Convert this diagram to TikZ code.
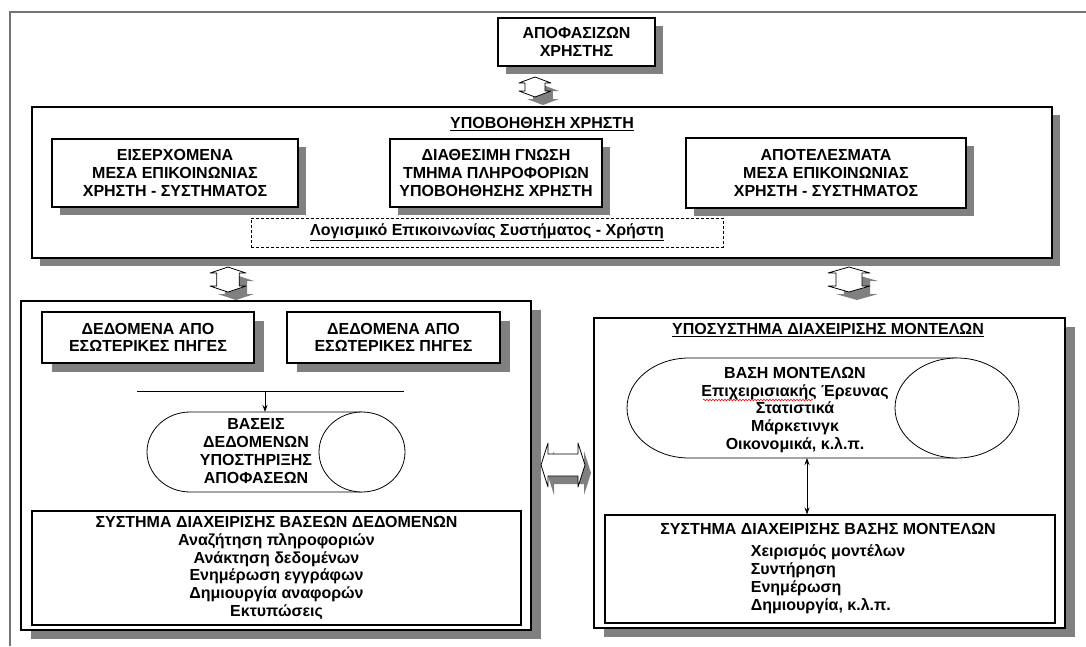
\documentclass[tikz,border=0pt]{standalone}
\usepackage{fontspec}
\setmainfont{Liberation Sans}
\usetikzlibrary{shadows,arrows.meta,decorations.pathmorphing}

% up-down block arrow: centre x, top y, height, half width of the heads
\newcommand{\udarrow}[4]{%
  \begin{scope}[shift={(#1,#2)}]
    \begin{scope}[shift={(8,8)}]
      \fill[shadowgray] (0,0) -- (#4,6) -- ({0.62*#4},6) -- ({0.62*#4},{#3-6}) -- (#4,{#3-6}) -- (0,#3)
        -- (-#4,{#3-6}) -- ({-0.62*#4},{#3-6}) -- ({-0.62*#4},6) -- (-#4,6) -- cycle;
    \end{scope}
    \filldraw[fill=white, draw=black, line width=0.8pt, line join=round]
      (0,0) -- (#4,6) -- ({0.62*#4},6) -- ({0.62*#4},{#3-6}) -- (#4,{#3-6}) -- (0,#3)
      -- (-#4,{#3-6}) -- ({-0.62*#4},{#3-6}) -- ({-0.62*#4},6) -- (-#4,6) -- cycle;
  \end{scope}}

\definecolor{shadowgray}{gray}{0.5}

\begin{document}
\begin{tikzpicture}[x=1pt, y=-1pt,
  txt/.style={font=\fontsize{16}{17.8}\selectfont\bfseries, align=center, inner sep=0pt},
  box/.style={draw=black, line width=1.1pt, fill=white, inner sep=0pt,
              font=\fontsize{16}{17.8}\selectfont\bfseries, align=center},
  shad/.style={drop shadow={shadow xshift=8pt, shadow yshift=-8pt, fill=shadowgray, opacity=1}},
  dshad/.style={drop shadow={shadow xshift=10pt, shadow yshift=-9pt, fill=shadowgray, opacity=1}},
  link/.style={draw=black, line width=0.9pt}]

% page
\path[use as bounding box, fill=white] (0,0) rectangle (1086,646);

% outer frame
\draw[black!55, line width=2pt] (1086,12) -- (10,12) -- (10,646);

% decision maker
\node[box, shad, minimum width=157pt, minimum height=48pt] (user) at (576.5,42) {ΑΠΟΦΑΣΙΖΩΝ\\ΧΡΗΣΤΗΣ};

\udarrow{535}{77}{20}{16}

% user support block
\node[box, shad, minimum width=1020pt, minimum height=151pt] (support) at (542,182.5) {};
\node[txt] (supporttitle) at (542,124) {\underline{ΥΠΟΒΟΗΘΗΣΗ ΧΡΗΣΤΗ}};
\node[box, shad, minimum width=246pt, minimum height=68pt] (input) at (175,173)
  {ΕΙΣΕΡΧΟΜΕΝΑ\\ΜΕΣΑ ΕΠΙΚΟΙΝΩΝΙΑΣ\\ΧΡΗΣΤΗ - ΣΥΣΤΗΜΑΤΟΣ};
\node[box, shad, minimum width=212pt, minimum height=68pt] (know) at (496,173)
  {ΔΙΑΘΕΣΙΜΗ ΓΝΩΣΗ\\ΤΜΗΜΑ ΠΛΗΡΟΦΟΡΙΩΝ\\ΥΠΟΒΟΗΘΗΣΗΣ ΧΡΗΣΤΗ};
\node[box, shad, minimum width=280pt, minimum height=70pt] (output) at (826,173)
  {ΑΠΟΤΕΛΕΣΜΑΤΑ\\ΜΕΣΑ ΕΠΙΚΟΙΝΩΝΙΑΣ\\ΧΡΗΣΤΗ - ΣΥΣΤΗΜΑΤΟΣ};
\node[box, draw=black, line width=0.8pt, dash pattern=on 3pt off 2pt, minimum width=472pt, minimum height=29pt]
  (soft) at (487,232.5) {\underline{Λογισμικό Επικοινωνίας Συστήματος - Χρήστη}};

\udarrow{228}{267}{25}{18}
\udarrow{849}{267}{25}{21}

% data management subsystem
\node[box, dshad, minimum width=510pt, minimum height=329pt] (datasys) at (276,465.5) {};
\node[box, dshad, minimum width=212pt, minimum height=51pt] (src1) at (148,337.5)
  {ΔΕΔΟΜΕΝΑ ΑΠΟ\\ΕΣΩΤΕΡΙΚΕΣ ΠΗΓΕΣ};
\node[box, dshad, minimum width=213pt, minimum height=51pt] (src2) at (393.5,337.5)
  {ΔΕΔΟΜΕΝΑ ΑΠΟ\\ΕΣΩΤΕΡΙΚΕΣ ΠΗΓΕΣ};

\coordinate (busL) at (137,391);
\coordinate (busR) at (404,391);
\coordinate (busM) at (265,391);
\coordinate (dbtop) at (265,412);
\draw[link] (busL) -- (busR);
\draw[link, -{Stealth[length=7pt,width=5pt]}] (busM) -- (dbtop);

% decision support database (horizontal cylinder)
\draw[line width=0.8pt, fill=white] (362,412) -- (190,412)
  arc[start angle=270, end angle=90, x radius=43, y radius=40] -- (362,492);
\draw[line width=0.8pt, fill=white] (362,452) ellipse [x radius=43, y radius=40];
\node[txt] (db) at (256,451) {ΒΑΣΕΙΣ\\ΔΕΔΟΜΕΝΩΝ\\ΥΠΟΣΤΗΡΙΞΗΣ\\ΑΠΟΦΑΣΕΩΝ};

\node[box, minimum width=489pt, minimum height=114pt] (dbms) at (276.5,568)
  {ΣΥΣΤΗΜΑ ΔΙΑΧΕΙΡΙΣΗΣ ΒΑΣΕΩΝ ΔΕΔΟΜΕΝΩΝ\\Αναζήτηση πληροφοριών\\Ανάκτηση δεδομένων\\
   Ενημέρωση εγγράφων\\Δημιουργία αναφορών\\Εκτυπώσεις};

% link between the two subsystems
\begin{scope}[shift={(6,8)}]
  \fill[shadowgray] (541,465) -- (548,443) -- (548,454) -- (578,454) -- (578,443) -- (585,465)
    -- (578,487) -- (578,476) -- (548,476) -- (548,487) -- cycle;
\end{scope}
\filldraw[fill=white, draw=black, line width=0.8pt, line join=round]
  (541,465) -- (548,443) -- (548,454) -- (578,454) -- (578,443) -- (585,465)
  -- (578,487) -- (578,476) -- (548,476) -- (548,487) -- cycle;

% model management subsystem
\node[box, dshad, minimum width=471pt, minimum height=310pt] (modsys) at (829.5,473) {};
\node[txt] (modtitle) at (828,330) {\underline{ΥΠΟΣΥΣΤΗΜΑ ΔΙΑΧΕΙΡΙΣΗΣ ΜΟΝΤΕΛΩΝ}};

% model base (horizontal cylinder)
\draw[line width=0.8pt, fill=white] (957,358) -- (689,358)
  arc[start angle=270, end angle=90, x radius=62, y radius=50] -- (957,458);
\draw[line width=0.8pt, fill=white] (957,408) ellipse [x radius=62, y radius=50];
\node[txt] (mb) at (795,410) {ΒΑΣΗ ΜΟΝΤΕΛΩΝ\\Επιχειρισιακής Έρευνας\\Στατιστικά\\Μάρκετινγκ\\Οικονομικά, κ.λ.π.};
\draw[red, line width=0.6pt, decorate, decoration={snake, amplitude=0.8pt, segment length=3pt}]
  (703,400) -- (813,400);
\coordinate (mbbottom) at (807,458);

\node[box, minimum width=450pt, minimum height=108pt] (mbms) at (830,569) {};
\node[txt] (mbmstitle) at (828,529) {ΣΥΣΤΗΜΑ ΔΙΑΧΕΙΡΙΣΗΣ ΒΑΣΗΣ ΜΟΝΤΕΛΩΝ};
\node[txt, align=left] (mbmsitems) at (828,579)
  {Χειρισμός μοντέλων\\Συντήρηση\\Ενημέρωση\\Δημιουργία, κ.λ.π.};
\draw[link, {Stealth[length=7pt,width=5pt]}-{Stealth[length=7pt,width=5pt]}] (mbbottom) -- (mbbottom |- mbms.north);

\end{tikzpicture}
\end{document}
